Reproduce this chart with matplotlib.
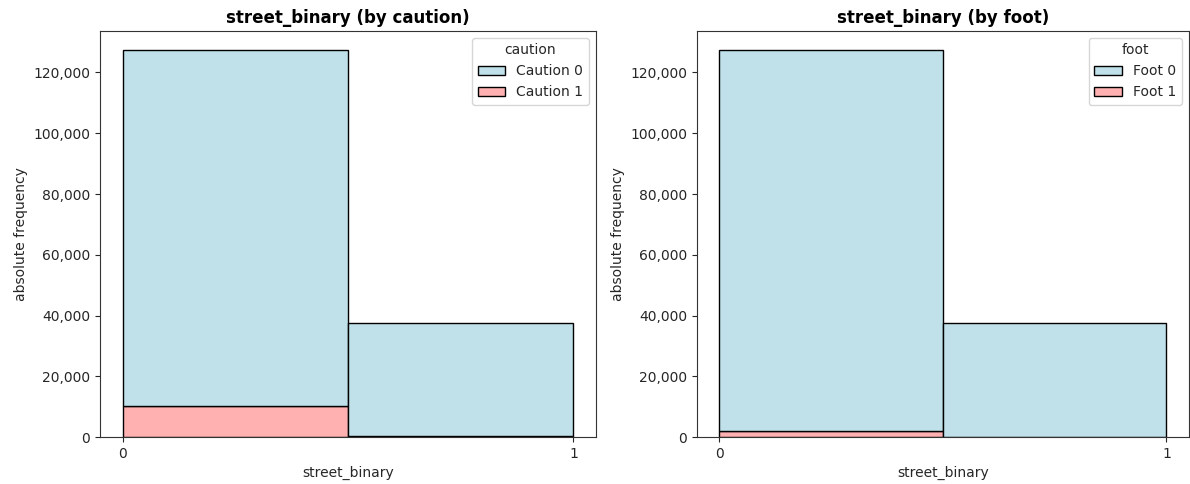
import matplotlib
matplotlib.use("Agg")
import matplotlib.pyplot as plt
from matplotlib.ticker import FuncFormatter
import numpy as np

plt.rcParams.update({"text.color": "#262626", "axes.labelcolor": "#262626",
                     "xtick.color": "#262626", "ytick.color": "#262626",
                     "axes.edgecolor": "#333333"})

bin_edges = [0.0, 0.5, 1.0]
caution_0 = [117000, 37300]
caution_1 = [10300, 300]
foot_0 = [125400, 37550]
foot_1 = [1900, 50]
blue = "#c0e0ea"
red = "#ffb1b1"

fig = plt.figure(figsize=(11.9, 4.84), dpi=100)
ax1 = fig.add_axes([0.084, 0.097, 0.4168, 0.839])
ax2 = fig.add_axes([0.5857, 0.097, 0.4133, 0.839])

def draw(ax, c0, c1, lab, title):
    left = bin_edges[:-1]
    w = np.diff(bin_edges)
    ax.bar(left, c1, width=w, align="edge", color=red, edgecolor="black", linewidth=1, label=f"{lab} 1")
    ax.bar(left, c0, width=w, bottom=c1, align="edge", color=blue, edgecolor="black", linewidth=1, label=f"{lab} 0")
    ax.set_xticks([0, 1])
    ax.set_xlabel("street_binary")
    ax.set_ylabel("absolute frequency")
    ax.set_title(title, fontweight="bold", fontsize=12, color="black")
    ax.yaxis.set_major_formatter(FuncFormatter(lambda v, p: f"{int(v):,}"))
    h, l = ax.get_legend_handles_labels()
    ax.legend(h[::-1], l[::-1], title=lab.lower(), loc="upper right")
    ax.margins(x=0.05)

draw(ax1, caution_0, caution_1, "Caution", "street_binary (by caution)")
draw(ax2, foot_0, foot_1, "Foot", "street_binary (by foot)")
fig.savefig("out.png", dpi=100)
